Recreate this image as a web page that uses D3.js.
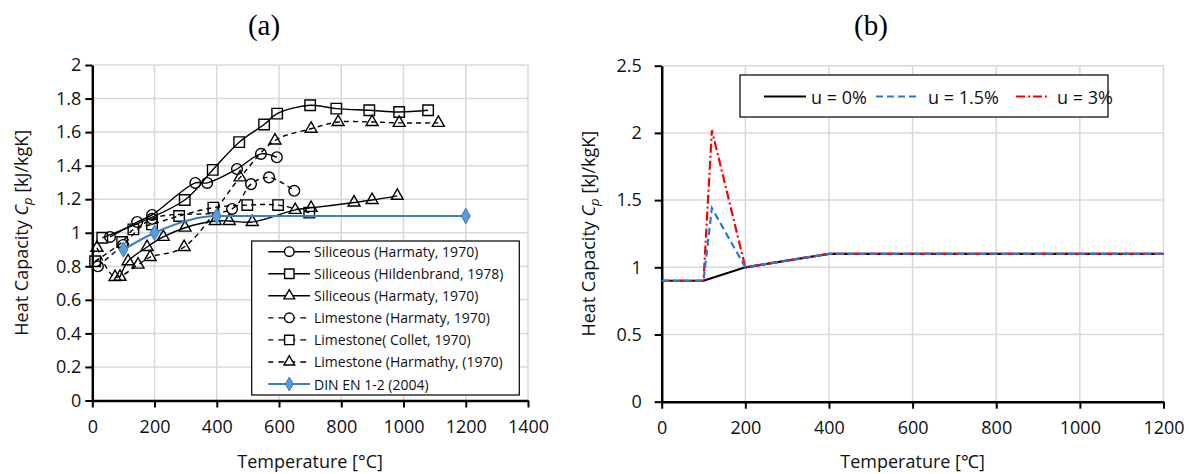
<!DOCTYPE html>
<html>
<head>
<meta charset="utf-8">
<script src="https://cdn.jsdelivr.net/npm/d3@7"></script>
<style>
  body { margin: 0; background: #fff; }
  text { font-family: "Open Sans", sans-serif; }
</style>
</head>
<body>
<div id="canvas"></div>
<script>
"use strict"
let svgWidth = 1189;
let svgHeight = 474;

// ---- data, panel (a): [temperature in °C, heat capacity in kJ/kgK]
let siliceousHarmaty = [[57,0.975],[144,1.064],[192,1.106],[331,1.297],[369,1.297],[465,1.38],[542,1.47],[593,1.45]];
let siliceousHildenbrand = [[32,0.97],[297,1.195],[387,1.375],[472,1.54],[552,1.645],[594,1.71],[700,1.76],[784,1.74],[890,1.73],[986,1.72],[1079,1.73]];
let siliceousHarmatyTri = [[89,0.737],[115,0.83],[176,0.915],[228,0.975],[298,1.03],[395,1.07],[440,1.07],[514,1.064],[652,1.136],[703,1.148],[841,1.18],[899,1.195],[980,1.22]];
let limestoneHarmaty = [[18,0.80],[99,0.927],[192,1.083],[449,1.142],[510,1.29],[568,1.33],[649,1.25]];
let limestoneCollet = [[9,0.83],[96,0.945],[132,1.02],[192,1.05],[279,1.10],[389,1.15],[498,1.165],[597,1.165],[697,1.12]];
let limestoneHarmathy = [[15,0.91],[73,0.736],[147,0.81],[186,0.855],[295,0.915],[475,1.33],[587,1.55],[703,1.62],[790,1.66],[899,1.66],[986,1.655],[1112,1.655]];
let dinEN = [[100,0.9],[200,1.0],[400,1.1],[1200,1.1]];

let legendLabelsA = ["Siliceous (Harmaty, 1970)", "Siliceous (Hildenbrand, 1978)", "Siliceous (Harmaty, 1970)",
    "Limestone (Harmaty, 1970)", "Limestone( Collet, 1970)", "Limestone (Harmathy, (1970)", "DIN EN 1-2 (2004)"];

let xTicksA = [0,200,400,600,800,1000,1200,1400];
let yTicksA = [0,0.2,0.4,0.6,0.8,1,1.2,1.4,1.6,1.8,2];

// ---- data, panel (b): moisture content u
let moist0 = [[0,0.9],[100,0.9],[200,1.0],[400,1.1],[1200,1.1]];
let moist15 = [[0,0.9],[100,0.9],[120,1.44],[200,1.0],[400,1.1],[1200,1.1]];
let moist3 = [[0,0.9],[100,0.9],[120,2.02],[200,1.0],[400,1.1],[1200,1.1]];
let legendLabelsB = ["u = 0%", "u = 1.5%", "u = 3%"];

let xTicksB = [0,200,400,600,800,1000,1200];
let yTicksB = [0,0.5,1,1.5,2,2.5];

let svg = d3.select("#canvas")
    .append("svg")
    .attr("width", svgWidth)
    .attr("height", svgHeight);

svg.append("rect")
    .attr("width", svgWidth)
    .attr("height", svgHeight)
    .attr("fill", "white");

// Draws grid, axes, ticks and titles for one panel
function drawFrame(x, y, xTicks, yTicks, yLabelPad, yTitleX, xTitle) {
    let x0 = x.range()[0], x1 = x.range()[1];
    let y0 = y.range()[0], y1 = y.range()[1];

    // grid
    svg.append("g").selectAll("line")
        .data(xTicks.slice(1))
        .join("line")
        .attr("x1", d => x(d)).attr("x2", d => x(d))
        .attr("y1", y0).attr("y2", y1)
        .attr("stroke", "#d9d9d9").attr("stroke-width", 1.5);
    svg.append("g").selectAll("line")
        .data(yTicks.slice(1))
        .join("line")
        .attr("x1", x0).attr("x2", x1)
        .attr("y1", d => y(d)).attr("y2", d => y(d))
        .attr("stroke", "#d9d9d9").attr("stroke-width", 1.5);

    // axes
    let xAxis = svg.append("g")
        .attr("transform", "translate(0," + y0 + ")")
        .call(d3.axisBottom(x).tickValues(xTicks).tickSize(7).tickPadding(13).tickSizeOuter(0).tickFormat(d3.format("")));
    let yAxis = svg.append("g")
        .attr("transform", "translate(" + x0 + ",0)")
        .call(d3.axisLeft(y).tickValues(yTicks).tickSize(7).tickPadding(yLabelPad).tickSizeOuter(0).tickFormat(d3.format("")));
    [xAxis, yAxis].forEach(function (a) {
        a.select(".domain").attr("stroke", "black").attr("stroke-width", 2.5);
        a.selectAll(".tick line").attr("stroke", "black").attr("stroke-width", 2);
        a.selectAll(".tick text")
            .attr("font-size", 18)
            .attr("fill", "#111")
            .style("font-family", "'Open Sans', sans-serif");
    });

    // x-axis title
    svg.append("text")
        .attr("x", (x0 + x1) / 2)
        .attr("y", 468)
        .attr("text-anchor", "middle")
        .attr("font-size", 18)
        .attr("fill", "#111")
        .text(xTitle);

    // y-axis title with italic C and subscript p
    let yt = svg.append("text")
        .attr("transform", "translate(" + yTitleX + "," + (y0 + y1) / 2 + ") rotate(-90)")
        .attr("text-anchor", "middle")
        .attr("font-size", 18)
        .attr("fill", "#111");
    yt.append("tspan").text("Heat Capacity ");
    yt.append("tspan").attr("font-style", "italic").text("C");
    yt.append("tspan").attr("font-style", "italic").attr("font-size", 13).attr("dy", 4).text("p");
    yt.append("tspan").attr("dy", -4).text(" [kJ/kgK]");
}

// ================= panel (a) =================
let xA = d3.scaleLinear().domain([0, 1400]).range([92.3, 528]);
let yA = d3.scaleLinear().domain([0, 2]).range([400.5, 65]);

drawFrame(xA, yA, xTicksA, yTicksA, 4, 28, "Temperature [°C]");

svg.append("text")
    .attr("x", 264).attr("y", 35)
    .attr("text-anchor", "middle")
    .attr("font-size", 29)
    .style("font-family", "'Liberation Serif', serif")
    .text("(a)");

let seriesA = [
    {data: siliceousHarmaty, symbol: d3.symbolCircle, size: 90, dash: null},
    {data: siliceousHildenbrand, symbol: d3.symbolSquare, size: 110, dash: null},
    {data: siliceousHarmatyTri, symbol: d3.symbolTriangle, size: 62, dash: null},
    {data: limestoneHarmaty, symbol: d3.symbolCircle, size: 90, dash: "5,4"},
    {data: limestoneCollet, symbol: d3.symbolSquare, size: 110, dash: "5,4"},
    {data: limestoneHarmathy, symbol: d3.symbolTriangle, size: 62, dash: "5,4"}
];

let lineA = d3.line()
    .x(d => xA(d[0]))
    .y(d => yA(d[1]))
    .curve(d3.curveCatmullRom.alpha(0.5));

seriesA.forEach(function (s) {
    svg.append("path")
        .datum(s.data)
        .attr("d", lineA)
        .attr("fill", "none")
        .attr("stroke", "black")
        .attr("stroke-width", 1.4)
        .attr("stroke-dasharray", s.dash);
    svg.append("g").selectAll("path")
        .data(s.data)
        .join("path")
        .attr("transform", d => "translate(" + xA(d[0]) + "," + yA(d[1]) + ")")
        .attr("d", d3.symbol().type(s.symbol).size(s.size))
        .attr("fill", "none")
        .attr("stroke", "black")
        .attr("stroke-width", 1.4);
});

// DIN EN line (monotone so it stays flat past 400 °C)
let lineDin = d3.line()
    .x(d => xA(d[0]))
    .y(d => yA(d[1]))
    .curve(d3.curveMonotoneX);
svg.append("path")
    .datum(dinEN)
    .attr("d", lineDin)
    .attr("fill", "none")
    .attr("stroke", "#3b7dc4")
    .attr("stroke-width", 2.2);
svg.append("g").selectAll("path")
    .data(dinEN)
    .join("path")
    .attr("transform", d => "translate(" + xA(d[0]) + "," + yA(d[1]) + ")")
    .attr("d", d3.symbol().type(d3.symbolDiamond).size(70))
    .attr("fill", "#5b9bd5")
    .attr("stroke", "#3b7dc4")
    .attr("stroke-width", 1);

// legend (a)
let legA = svg.append("g");
legA.append("rect")
    .attr("x", 251.7).attr("y", 241)
    .attr("width", 267.6).attr("height", 154)
    .attr("fill", "white")
    .attr("stroke", "black")
    .attr("stroke-width", 1.2);

let legendStyles = seriesA.concat([{symbol: d3.symbolDiamond, size: 70, dash: null, blue: true}]);
for (let i = 0; i < legendStyles.length; i++) {
    let s = legendStyles[i];
    let yPos = 251.7 + i * 22.05;
    legA.append("line")
        .attr("x1", 268.3).attr("x2", 310)
        .attr("y1", yPos).attr("y2", yPos)
        .attr("stroke", s.blue ? "#3b7dc4" : "black")
        .attr("stroke-width", s.blue ? 2.2 : 1.4)
        .attr("stroke-dasharray", s.dash ? "6,5" : null)
        .attr("stroke-dashoffset", s.dash ? 1 : null);
    legA.append("path")
        .attr("transform", "translate(289.3," + yPos + ")")
        .attr("d", d3.symbol().type(s.symbol).size(s.size * 0.8))
        .attr("fill", s.blue ? "#5b9bd5" : "white")
        .attr("stroke", s.blue ? "#3b7dc4" : "black")
        .attr("stroke-width", s.blue ? 1 : 1.4);
    legA.append("text")
        .attr("x", 314).attr("y", yPos)
        .attr("dominant-baseline", "central")
        .attr("font-size", 14)
        .attr("fill", "#111")
        .text(legendLabelsA[i]);
}

// ================= panel (b) =================
let xB = d3.scaleLinear().domain([0, 1200]).range([661.7, 1163.5]);
let yB = d3.scaleLinear().domain([0, 2.5]).range([401.7, 65.7]);

drawFrame(xB, yB, xTicksB, yTicksB, 13, 595, "Temperature [\u2103]");

svg.append("text")
    .attr("x", 871).attr("y", 35)
    .attr("text-anchor", "middle")
    .attr("font-size", 29)
    .style("font-family", "'Liberation Serif', serif")
    .text("(b)");

let lineB = d3.line()
    .x(d => xB(d[0]))
    .y(d => yB(d[1]));

let seriesB = [
    {data: moist0, color: "black", dash: null},
    {data: moist15, color: "#2e75d6", dash: "7,4"},
    {data: moist3, color: "#ff0000", dash: "9,3,2,3"}
];

// draw in order so the 0% line sits under the others
[seriesB[0], seriesB[2], seriesB[1]].forEach(function (s) {
    svg.append("path")
        .datum(s.data)
        .attr("d", lineB)
        .attr("fill", "none")
        .attr("stroke", s.color)
        .attr("stroke-width", 2.2)
        .attr("stroke-dasharray", s.dash);
});

// legend (b)
let legB = svg.append("g");
legB.append("rect")
    .attr("x", 740).attr("y", 75)
    .attr("width", 368).attr("height", 42)
    .attr("fill", "white")
    .attr("stroke", "black")
    .attr("stroke-width", 1.2);

let legBLineX = [764, 876, 1016];
let legBLineEnd = [806, 918, 1048];
let legBTextX = [811, 928, 1057];
for (let i = 0; i < seriesB.length; i++) {
    legB.append("line")
        .attr("x1", legBLineX[i]).attr("x2", legBLineEnd[i])
        .attr("y1", 96.5).attr("y2", 96.5)
        .attr("stroke", seriesB[i].color)
        .attr("stroke-width", 2.2)
        .attr("stroke-dasharray", seriesB[i].dash);
    legB.append("text")
        .attr("x", legBTextX[i]).attr("y", 96.5)
        .attr("dominant-baseline", "central")
        .attr("font-size", 18)
        .attr("fill", "#111")
        .text(legendLabelsB[i]);
}
</script>
</body>
</html>
